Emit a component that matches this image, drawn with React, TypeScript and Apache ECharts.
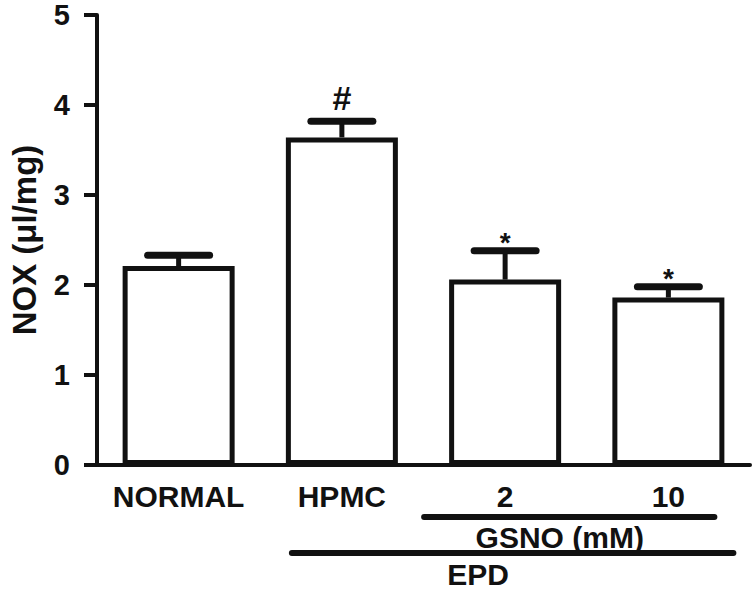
import React, { useEffect, useRef } from 'react';
import * as echarts from 'echarts';

const categories = ['NORMAL', 'HPMC', '2', '10'];
const means = [2.21, 3.64, 2.06, 1.86];
const upperErr = [2.33, 3.82, 2.38, 1.98];
const marks = ['', '#', '*', '*'];
const yMin = 0;
const yMax = 5;
const yStep = 1;
const groupLabels = ['GSNO (mM)', 'EPD'];

const FONT = '"Liberation Sans", Arial, Helvetica, sans-serif';
const INK = '#111';

export default function App() {
  const ref = useRef<HTMLDivElement>(null);
  useEffect(() => {
    const chart = echarts.init(ref.current!, null, { renderer: 'svg' });
    chart.setOption({
      animation: false,
      backgroundColor: '#fff',
      grid: { left: 82, right: 6, top: 15, bottom: 126, containLabel: false },
      xAxis: {
        type: 'category',
        data: categories,
        axisLine: { lineStyle: { color: INK, width: 4 } },
        axisTick: { alignWithLabel: true, length: 12, lineStyle: { width: 4, color: INK } },
        axisLabel: { interval: 0, color: INK, fontSize: 30, fontWeight: 'bold', fontFamily: FONT, margin: 16 },
      },
      yAxis: {
        type: 'value',
        min: yMin,
        max: yMax,
        interval: yStep,
        name: 'NOX (μl/mg)',
        nameLocation: 'middle',
        nameGap: 56,
        nameTextStyle: { color: INK, fontSize: 33, fontWeight: 'bold', fontFamily: FONT },
        axisLine: { show: true, lineStyle: { color: INK, width: 4 } },
        axisTick: { show: true, length: 13, lineStyle: { width: 4, color: INK } },
        axisLabel: { color: INK, fontSize: 29, fontWeight: 'bold', fontFamily: FONT, margin: 27 },
        splitLine: { show: false },
      },
      series: [
        {
          type: 'bar',
          data: means,
          barWidth: 112,
          itemStyle: { color: '#fff', borderColor: INK, borderWidth: 5 },
          z: 2,
        },
        {
          type: 'custom',
          data: categories.map((c, i) => [i, means[i], upperErr[i]]),
          z: 3,
          renderItem: (params: any, api: any) => {
            const i = api.value(0);
            const base = api.coord([i, api.value(1)]);
            const top = api.coord([i, api.value(2)]);
            const half = 31;
            const children: any[] = [
              {
                type: 'line',
                shape: { x1: base[0], y1: base[1], x2: top[0], y2: top[1] },
                style: { stroke: INK, lineWidth: 5 },
              },
              {
                type: 'line',
                shape: { x1: top[0] - half, y1: top[1], x2: top[0] + half, y2: top[1] },
                style: { stroke: INK, lineWidth: 7, lineCap: 'round' },
              },
            ];
            const m = marks[params.dataIndex];
            if (m) {
              const isHash = m === '#';
              children.push({
                type: 'text',
                x: top[0],
                y: top[1] - (isHash ? 23 : 8),
                style: {
                  text: m,
                  fill: INK,
                  font: `bold ${isHash ? 34 : 28}px ${FONT}`,
                  align: 'center',
                  verticalAlign: 'middle',
                },
              });
            }
            return { type: 'group', children };
          },
        },
      ],
    });

    const px = (i: number) => chart.convertToPixel({ xAxisIndex: 0 }, categories[i]) as number;
    const c1 = px(1);
    const c2 = px(2);
    const c3 = px(3);
    chart.setOption({
      graphic: [
        {
          type: 'line',
          shape: { x1: c2 - 81, y1: 517, x2: c3 + 46, y2: 517 },
          style: { stroke: INK, lineWidth: 6, lineCap: 'round' },
        },
        {
          type: 'text',
          x: (c2 + c3) / 2 - 27,
          y: 537,
          style: { text: groupLabels[0], fill: INK, font: `bold 30px ${FONT}`, align: 'center', verticalAlign: 'middle' },
        },
        {
          type: 'line',
          shape: { x1: c1 - 50, y1: 553, x2: c3 + 65, y2: 553 },
          style: { stroke: INK, lineWidth: 6, lineCap: 'round' },
        },
        {
          type: 'text',
          x: (c1 + c3) / 2 - 27,
          y: 574,
          style: { text: groupLabels[1], fill: INK, font: `bold 30px ${FONT}`, align: 'center', verticalAlign: 'middle' },
        },
      ],
    });
    return () => chart.dispose();
  }, []);
  return (
    <div
      ref={ref}
      style={{ position: 'absolute', left: 0, top: 0, width: 756, height: 591, background: '#fff' }}
    />
  );
}
